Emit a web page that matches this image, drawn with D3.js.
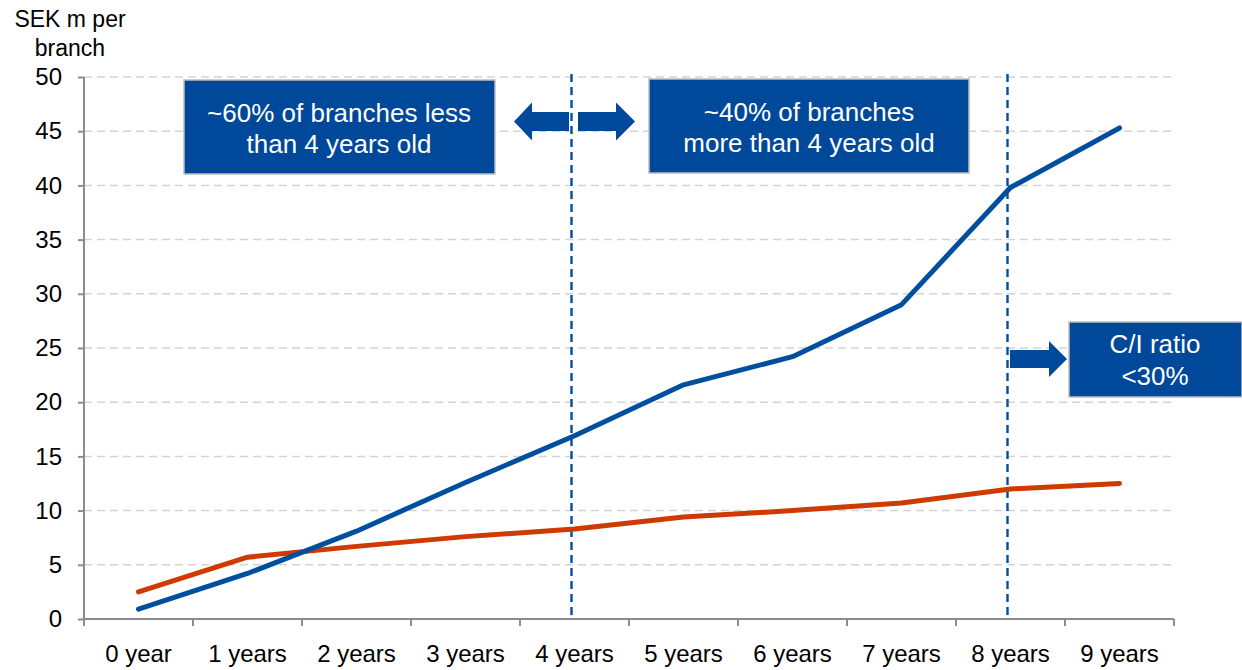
<!DOCTYPE html>
<html>
<head>
<meta charset="utf-8">
<script src="https://cdn.jsdelivr.net/npm/d3@7/dist/d3.min.js"></script>
<style>
  html, body { margin: 0; padding: 0; background: #fff; }
  svg { display: block; font-family: "Liberation Sans", Arial, sans-serif; }
</style>
</head>
<body>
<svg id="chart" width="1242" height="670"></svg>
<script>
// Branch age buckets
const categories = ["0 year", "1 years", "2 years", "3 years", "4 years",
                    "5 years", "6 years", "7 years", "8 years", "9 years"];
// SEK m per branch, by branch age
const seriesA = [0.9, 4.2, 8.1, 12.6, 16.9, 21.6, 24.2, 29.0, 39.8, 45.3];
const seriesB = [2.5, 5.7, 6.7, 7.6, 8.3, 9.4, 10.0, 10.7, 12.0, 12.5];
const yTicks = [0, 5, 10, 15, 20, 25, 30, 35, 40, 45, 50];
// Age markers drawn as dashed verticals
const markers = ["4 years", "8 years"];
const callouts = [
  { lines: ["~60% of branches less", "than 4 years old"] },
  { lines: ["~40% of branches", "more than 4 years old"] },
  { lines: ["C/I ratio", "<30%"] }
];

const svg = d3.select("#chart");
const m = { left: 84, right: 1174, top: 77, bottom: 619 };
const blue = "#004F9E", red = "#CF3A00", fill = "#00489A";

const x = d3.scaleBand().domain(categories).range([m.left, m.right]);
const y = d3.scaleLinear().domain([0, 50]).range([m.bottom, m.top]);
const cx = c => x(c) + x.bandwidth() / 2;

// horizontal gridlines
svg.append("g").selectAll("line").data(yTicks.filter(t => t > 0)).join("line")
  .attr("x1", m.left).attr("x2", m.right)
  .attr("y1", d => y(d)).attr("y2", d => y(d))
  .attr("stroke", "#d3d3d3").attr("stroke-width", 1.5).attr("stroke-dasharray", "8,5");

// axes
const axisColor = "#8c8c8c";
const yAxis = svg.append("g").attr("transform", `translate(${m.left},0)`)
  .call(d3.axisLeft(y).tickValues(yTicks).tickSize(6).tickPadding(16));
const xAxis = svg.append("g").attr("transform", `translate(0,${m.bottom})`)
  .call(d3.axisBottom(x).tickSize(0).tickPadding(26));
[yAxis, xAxis].forEach(g => {
  g.select(".domain").attr("stroke", axisColor).attr("stroke-width", 2);
  g.selectAll(".tick line").attr("stroke", axisColor).attr("stroke-width", 2);
  g.selectAll("text").attr("fill", "#000").style("font-size", "24px")
    .style("font-family", "'Liberation Sans', Arial, sans-serif");
});
yAxis.select(".domain").attr("d", `M0,${m.bottom}V${m.top}`);
xAxis.select(".domain").attr("d", `M${m.left},0H${m.right}`);
xAxis.selectAll(".tick text").attr("dy", "0.71em");
// band boundary ticks on the x axis
const bounds = categories.map(c => x(c)).concat([m.right]);
svg.append("g").selectAll("line").data(bounds).join("line")
  .attr("x1", d => d).attr("x2", d => d)
  .attr("y1", m.bottom).attr("y2", m.bottom + 7)
  .attr("stroke", axisColor).attr("stroke-width", 2);

// y axis title
svg.append("text").attr("x", 70).attr("y", 27).attr("text-anchor", "middle")
  .style("font-size", "23px").text("SEK m per");
svg.append("text").attr("x", 70).attr("y", 56).attr("text-anchor", "middle")
  .style("font-size", "23px").text("branch");

// dashed age markers
svg.append("g").selectAll("line").data(markers).join("line")
  .attr("x1", d => cx(d) - 3).attr("x2", d => cx(d) - 3)
  .attr("y1", m.top - 3).attr("y2", m.bottom)
  .attr("stroke", blue).attr("stroke-width", 2.4).attr("stroke-dasharray", "8,5");

// series lines
const line = d3.line().x((d, i) => cx(categories[i])).y(d => y(d));
[[seriesB, red], [seriesA, blue]].forEach(([s, col]) => {
  svg.append("path").datum(s).attr("d", line)
    .attr("fill", "none").attr("stroke", col).attr("stroke-width", 5)
    .attr("stroke-linecap", "round").attr("stroke-linejoin", "round");
});

// callout boxes
const boxes = [
  { x0: 184, x1: 495, y0: 80, y1: 174, tx: 339, ty: 122, lh: 31 },
  { x0: 649, x1: 969, y0: 79, y1: 173, tx: 809, ty: 121, lh: 31 },
  { x0: 1069, x1: 1242, y0: 322, y1: 397, tx: 1155, ty: 353, lh: 32 }
];
boxes.forEach((b, i) => {
  svg.append("rect").attr("x", b.x0).attr("y", b.y0)
    .attr("width", b.x1 - b.x0).attr("height", b.y1 - b.y0)
    .attr("fill", fill).attr("stroke", "#bdbdbd").attr("stroke-width", 1.5);
  callouts[i].lines.forEach((t, j) => {
    svg.append("text").attr("x", b.tx).attr("y", b.ty + j * b.lh)
      .attr("text-anchor", "middle").attr("fill", "#fff")
      .style("font-size", "26px").text(t);
  });
});

// block arrows
function arrow(tip, base, end, cyv, shaftH, headH) {
  const pts = [
    [tip, cyv], [base, cyv - headH / 2], [base, cyv - shaftH / 2], [end, cyv - shaftH / 2],
    [end, cyv + shaftH / 2], [base, cyv + shaftH / 2], [base, cyv + headH / 2]
  ];
  svg.append("path").attr("d", "M" + pts.map(p => p.join(",")).join("L") + "Z")
    .attr("fill", fill);
}
arrow(514, 532, 569, 121.5, 19, 38);
arrow(635, 616, 578, 121.5, 19, 38);
arrow(1067, 1049, 1010, 359, 18, 36);
</script>
</body>
</html>
